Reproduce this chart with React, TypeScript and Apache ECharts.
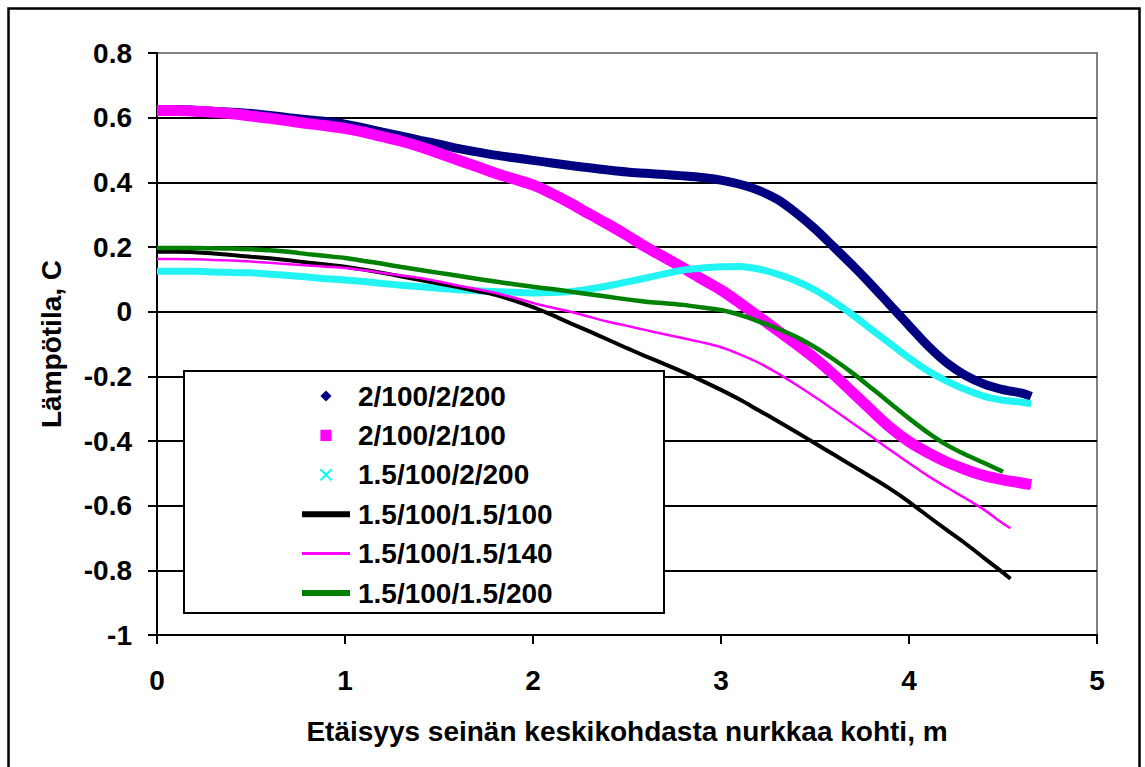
import React, { useEffect, useRef } from "react";
import * as echarts from "echarts";

// x positions (m)
const xLong = [0, 0.1, 0.2, 0.3, 0.4, 0.5, 0.6, 0.7, 0.8, 0.9, 1.0, 1.1, 1.2, 1.3, 1.4, 1.5, 1.6, 1.7, 1.8, 1.9, 2.0, 2.1, 2.2, 2.3, 2.4, 2.5, 2.6, 2.7, 2.8, 2.9, 3.0, 3.1, 3.2, 3.3, 3.4, 3.5, 3.6, 3.7, 3.8, 3.9, 4.0, 4.1, 4.2, 4.3, 4.4, 4.5, 4.6, 4.65];
const xMid = [0, 0.1, 0.2, 0.3, 0.4, 0.5, 0.6, 0.7, 0.8, 0.9, 1.0, 1.1, 1.2, 1.3, 1.4, 1.5, 1.6, 1.7, 1.8, 1.9, 2.0, 2.1, 2.2, 2.3, 2.4, 2.5, 2.6, 2.7, 2.8, 2.9, 3.0, 3.1, 3.2, 3.3, 3.4, 3.5, 3.6, 3.7, 3.8, 3.9, 4.0, 4.1, 4.2, 4.3, 4.4, 4.5, 4.54];
const xShort = [0, 0.1, 0.2, 0.3, 0.4, 0.5, 0.6, 0.7, 0.8, 0.9, 1.0, 1.1, 1.2, 1.3, 1.4, 1.5, 1.6, 1.7, 1.8, 1.9, 2.0, 2.1, 2.2, 2.3, 2.4, 2.5, 2.6, 2.7, 2.8, 2.9, 3.0, 3.1, 3.2, 3.3, 3.4, 3.5, 3.6, 3.7, 3.8, 3.9, 4.0, 4.1, 4.2, 4.3, 4.4, 4.5];

const seriesNames = ["2/100/2/200", "2/100/2/100", "1.5/100/2/200", "1.5/100/1.5/100", "1.5/100/1.5/140", "1.5/100/1.5/200"];

const navy = [0.625, 0.625, 0.623, 0.62, 0.617, 0.613, 0.607, 0.6, 0.594, 0.588, 0.58, 0.568, 0.555, 0.543, 0.53, 0.518, 0.505, 0.494, 0.484, 0.476, 0.468, 0.46, 0.452, 0.445, 0.438, 0.432, 0.428, 0.424, 0.42, 0.415, 0.407, 0.394, 0.375, 0.347, 0.305, 0.256, 0.2, 0.143, 0.083, 0.02, -0.043, -0.105, -0.158, -0.197, -0.224, -0.241, -0.252, -0.262];
const magenta = [0.622, 0.622, 0.62, 0.617, 0.612, 0.605, 0.598, 0.59, 0.582, 0.575, 0.567, 0.555, 0.541, 0.527, 0.51, 0.49, 0.469, 0.449, 0.428, 0.41, 0.392, 0.365, 0.335, 0.302, 0.27, 0.236, 0.2, 0.168, 0.135, 0.1, 0.067, 0.027, -0.015, -0.058, -0.1, -0.145, -0.195, -0.25, -0.305, -0.358, -0.402, -0.436, -0.465, -0.488, -0.507, -0.52, -0.53, -0.535];
const cyan = [0.125, 0.125, 0.125, 0.123, 0.121, 0.12, 0.116, 0.112, 0.107, 0.102, 0.098, 0.093, 0.087, 0.082, 0.077, 0.072, 0.068, 0.065, 0.062, 0.06, 0.058, 0.059, 0.062, 0.07, 0.08, 0.092, 0.104, 0.117, 0.129, 0.135, 0.139, 0.14, 0.132, 0.116, 0.095, 0.067, 0.031, -0.01, -0.055, -0.099, -0.143, -0.183, -0.215, -0.241, -0.262, -0.274, -0.28, -0.285];
const black = [0.185, 0.185, 0.184, 0.18, 0.175, 0.17, 0.165, 0.159, 0.152, 0.146, 0.139, 0.13, 0.12, 0.109, 0.098, 0.087, 0.076, 0.064, 0.052, 0.034, 0.014, -0.01, -0.036, -0.061, -0.087, -0.113, -0.138, -0.162, -0.187, -0.214, -0.242, -0.272, -0.305, -0.338, -0.372, -0.407, -0.442, -0.477, -0.512, -0.548, -0.588, -0.632, -0.675, -0.717, -0.762, -0.807, -0.826];
const pink = [0.163, 0.163, 0.162, 0.16, 0.158, 0.155, 0.151, 0.147, 0.143, 0.139, 0.135, 0.128, 0.12, 0.112, 0.104, 0.093, 0.081, 0.07, 0.058, 0.043, 0.027, 0.013, 0, -0.016, -0.031, -0.044, -0.057, -0.07, -0.082, -0.095, -0.11, -0.132, -0.158, -0.19, -0.226, -0.264, -0.304, -0.345, -0.386, -0.428, -0.468, -0.508, -0.543, -0.577, -0.613, -0.655, -0.67];
const green = [0.197, 0.197, 0.197, 0.196, 0.195, 0.193, 0.19, 0.185, 0.178, 0.172, 0.166, 0.157, 0.148, 0.138, 0.129, 0.12, 0.111, 0.102, 0.093, 0.085, 0.077, 0.07, 0.062, 0.054, 0.046, 0.038, 0.031, 0.026, 0.021, 0.013, 0.005, -0.01, -0.03, -0.052, -0.078, -0.11, -0.148, -0.19, -0.236, -0.283, -0.33, -0.374, -0.412, -0.442, -0.468, -0.495];

const zip = (xs: number[], ys: number[]) => xs.map((x, i) => [x, ys[i]]);

const FONT = "'Liberation Sans', Arial, sans-serif";
const CROSS = "path://M0,0L10,10M10,0L0,10";

export default function App() {
  const ref = useRef<HTMLDivElement>(null);
  useEffect(() => {
    if (!ref.current) return;
    const chart = echarts.init(ref.current, undefined, { renderer: "svg" });
    const txt = { fontFamily: FONT, fontWeight: "bold" as const, fontSize: 28, color: "#000" };
    const option = {
      animation: false,
      backgroundColor: "#fff",
      grid: {
        left: 157, top: 53, right: 48, bottom: 132,
        show: true, borderColor: "#808080", borderWidth: 2,
      },
      xAxis: {
        type: "value", min: 0, max: 5, interval: 1,
        name: "Etäisyys seinän keskikohdasta nurkkaa kohti, m",
        nameLocation: "middle", nameGap: 82,
        nameTextStyle: txt,
        axisLine: { show: true, onZero: false, lineStyle: { color: "#000", width: 2 } },
        axisTick: { show: true, length: 9, lineStyle: { color: "#000", width: 2 } },
        axisLabel: { ...txt, margin: 31 },
        splitLine: { show: false },
      },
      yAxis: {
        type: "value", min: -1, max: 0.8, interval: 0.2,
        name: "Lämpötila, C",
        nameLocation: "middle", nameGap: 92, nameRotate: 90,
        nameTextStyle: txt,
        axisLine: { show: true, lineStyle: { color: "#000", width: 2 } },
        axisTick: { show: true, length: 9, lineStyle: { color: "#000", width: 2 } },
        axisLabel: { ...txt, margin: 25, formatter: (v: number) => String(Math.round(v * 10) / 10) },
        splitLine: { show: true, showMaxLine: false, showMinLine: false, lineStyle: { color: "#000", width: 2 } },
      },
      legend: {
        orient: "vertical", left: 299, top: 381, padding: 0,
        itemWidth: 48, itemHeight: 14, itemGap: 9.4,
        textStyle: { ...txt, lineHeight: 30, padding: [0, 0, 0, 3] },
        data: [
          { name: seriesNames[0], lineStyle: { width: 0, opacity: 0 }, itemStyle: { color: "#000080" } },
          { name: seriesNames[1], lineStyle: { width: 0, opacity: 0 }, itemStyle: { color: "#ff00ff" } },
          { name: seriesNames[2], lineStyle: { width: 0, opacity: 0 }, itemStyle: { color: "#00ffff", borderColor: "#00ffff", borderWidth: 2 } },
          { name: seriesNames[3], lineStyle: { width: 6, color: "#000" }, itemStyle: { opacity: 0 } },
          { name: seriesNames[4], lineStyle: { width: 3, color: "#ff00ff" }, itemStyle: { opacity: 0 } },
          { name: seriesNames[5], lineStyle: { width: 6, color: "#008000" }, itemStyle: { opacity: 0 } },
        ],
      },
      graphic: [
        { type: "rect", z: 3, shape: { x: 184, y: 371, width: 480, height: 242 }, style: { fill: "#fff", stroke: "#000", lineWidth: 2 } },
        { type: "rect", z: 10, shape: { x: 8.5, y: 8.5, width: 1131, height: 800 }, style: { fill: "none", stroke: "#000", lineWidth: 2.5 } },
      ],
      series: [
        { name: seriesNames[0], type: "line", data: zip(xLong, navy), symbol: "diamond", showSymbol: false, smooth: 0.3, color: "#000080", lineStyle: { color: "#000080", width: 9 } },
        { name: seriesNames[1], type: "line", data: zip(xLong, magenta), symbol: "rect", showSymbol: false, smooth: 0.3, color: "#ff00ff", lineStyle: { color: "#ff00ff", width: 11 } },
        { name: seriesNames[2], type: "line", data: zip(xLong, cyan), symbol: CROSS, showSymbol: false, smooth: 0.3, color: "#00ffff", lineStyle: { color: "#22f4f4", width: 7 } },
        { name: seriesNames[3], type: "line", data: zip(xMid, black), symbol: "none", smooth: 0.3, color: "#000", lineStyle: { color: "#000", width: 4 } },
        { name: seriesNames[4], type: "line", data: zip(xMid, pink), symbol: "none", smooth: 0.3, color: "#ff00ff", lineStyle: { color: "#ff00ff", width: 2.5 } },
        { name: seriesNames[5], type: "line", data: zip(xShort, green), symbol: "none", smooth: 0.3, color: "#008000", lineStyle: { color: "#008000", width: 4.5 } },
      ],
    };
    chart.setOption(option as any);
    return () => chart.dispose();
  }, []);
  return <div ref={ref} style={{ position: "absolute", left: 0, top: 0, width: 1145, height: 767 }} />;
}
